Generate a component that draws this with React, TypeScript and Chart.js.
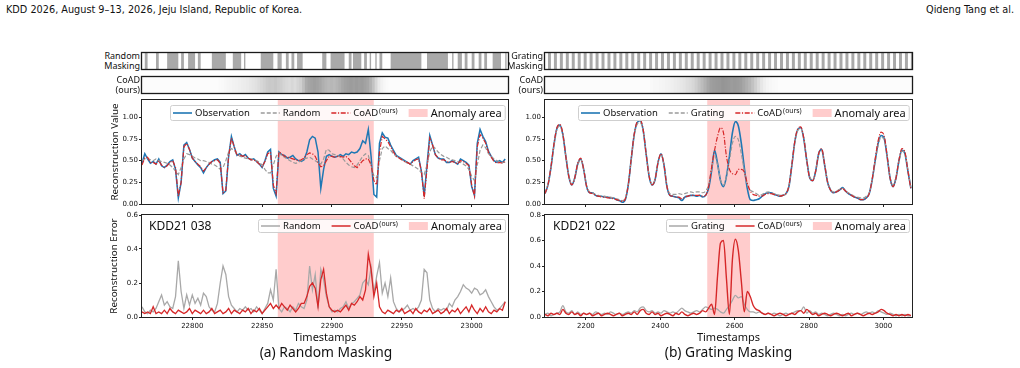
import { useEffect, useRef } from 'react';
import { Chart, registerables } from 'chart.js';

Chart.register(...registerables);

// ---------------- panel (a): KDD21 038, random masking ----------------
const A_T0 = 22764;
const A_DT = 2;
const A_X_RANGE = [22764, 23026];
const A_X_TICKS = [22800, 22850, 22900, 22950, 23000];
const A_ANOMALY = [22861, 22930];

const A_OBSERVATION = [
  0.47, 0.58, 0.52, 0.47, 0.49, 0.46, 0.52, 0.44, 0.42, 0.45,
  0.49, 0.51, 0.40, 0.07, 0.25, 0.68, 0.71, 0.63, 0.53, 0.49,
  0.45, 0.42, 0.36, 0.42, 0.46, 0.49, 0.51, 0.52, 0.48, 0.12,
  0.15, 0.55, 0.78, 0.66, 0.56, 0.58, 0.55, 0.57, 0.53, 0.51,
  0.52, 0.49, 0.46, 0.42, 0.50, 0.60, 0.63, 0.18, 0.09, 0.60,
  0.57, 0.56, 0.53, 0.54, 0.56, 0.52, 0.50, 0.49, 0.51, 0.60,
  0.74, 0.78, 0.76, 0.60, 0.18, 0.40, 0.55, 0.57, 0.55, 0.54,
  0.55, 0.57, 0.55, 0.58, 0.57, 0.60, 0.59, 0.60, 0.64, 0.73,
  0.70, 0.86, 0.55, 0.11, 0.08, 0.70, 0.82, 0.77, 0.76, 0.68,
  0.62, 0.56, 0.54, 0.52, 0.50, 0.48, 0.46, 0.50, 0.52, 0.54,
  0.38, 0.09, 0.45, 0.79, 0.68, 0.57, 0.53, 0.52, 0.52, 0.48,
  0.48, 0.50, 0.48, 0.46, 0.52, 0.50, 0.48, 0.45, 0.20, 0.10,
  0.70, 0.86, 0.78, 0.72, 0.61, 0.55, 0.50, 0.48, 0.50, 0.48,
  0.52,
];

const A_RANDOM = [
  0.50, 0.52, 0.53, 0.51, 0.50, 0.52, 0.50, 0.49, 0.48, 0.47,
  0.45, 0.42, 0.38, 0.34, 0.42, 0.52, 0.58, 0.57, 0.55, 0.53,
  0.52, 0.50, 0.50, 0.49, 0.48, 0.46, 0.45, 0.43, 0.40, 0.42,
  0.50, 0.60, 0.64, 0.62, 0.58, 0.55, 0.54, 0.53, 0.52, 0.52,
  0.51, 0.50, 0.48, 0.45, 0.40, 0.36, 0.36, 0.45, 0.55, 0.59,
  0.56, 0.54, 0.52, 0.50, 0.48, 0.47, 0.48, 0.50, 0.52, 0.53,
  0.54, 0.52, 0.50, 0.48, 0.46, 0.52, 0.63, 0.62, 0.58, 0.57,
  0.56, 0.54, 0.52, 0.48, 0.45, 0.43, 0.42, 0.45, 0.50, 0.55,
  0.58, 0.56, 0.45, 0.32, 0.30, 0.50, 0.64, 0.67, 0.64, 0.62,
  0.58, 0.55, 0.53, 0.51, 0.49, 0.47, 0.46, 0.44, 0.42, 0.40,
  0.36, 0.34, 0.45, 0.60, 0.67, 0.64, 0.60, 0.57, 0.55, 0.54,
  0.52, 0.51, 0.50, 0.49, 0.48, 0.46, 0.44, 0.40, 0.32, 0.27,
  0.45, 0.62, 0.68, 0.65, 0.58, 0.55, 0.52, 0.50, 0.49, 0.48,
  0.48,
];

const A_COAD = [
  0.45, 0.53, 0.54, 0.48, 0.48, 0.46, 0.50, 0.45, 0.42, 0.44,
  0.48, 0.50, 0.42, 0.09, 0.25, 0.66, 0.70, 0.63, 0.53, 0.49,
  0.46, 0.43, 0.38, 0.42, 0.46, 0.49, 0.50, 0.51, 0.47, 0.13,
  0.16, 0.55, 0.76, 0.66, 0.56, 0.57, 0.55, 0.56, 0.53, 0.51,
  0.51, 0.49, 0.46, 0.43, 0.49, 0.58, 0.60, 0.22, 0.12, 0.60,
  0.58, 0.55, 0.54, 0.53, 0.52, 0.51, 0.50, 0.51, 0.53, 0.57,
  0.59, 0.58, 0.55, 0.48, 0.43, 0.44, 0.50, 0.55, 0.55, 0.54,
  0.55, 0.55, 0.54, 0.55, 0.52, 0.48, 0.44, 0.42, 0.46, 0.50,
  0.52, 0.52, 0.45, 0.27, 0.22, 0.60, 0.78, 0.75, 0.72, 0.66,
  0.60, 0.55, 0.53, 0.51, 0.49, 0.48, 0.46, 0.49, 0.51, 0.52,
  0.38, 0.06, 0.40, 0.76, 0.68, 0.57, 0.53, 0.51, 0.51, 0.49,
  0.48, 0.49, 0.48, 0.46, 0.50, 0.49, 0.47, 0.44, 0.22, 0.09,
  0.66, 0.80, 0.76, 0.70, 0.60, 0.54, 0.49, 0.47, 0.48, 0.47,
  0.50,
];

const A_ERR_RANDOM = [
  0.06, 0.03, 0.02, 0.04, 0.03, 0.05, 0.09, 0.13, 0.07, 0.09,
  0.06, 0.05, 0.12, 0.33, 0.15, 0.05, 0.13, 0.07, 0.13, 0.08,
  0.11, 0.07, 0.14, 0.12, 0.06, 0.04, 0.03, 0.08, 0.20, 0.30,
  0.25, 0.12, 0.07, 0.05, 0.03, 0.05, 0.04, 0.06, 0.04, 0.05,
  0.03, 0.06, 0.04, 0.02, 0.05, 0.08, 0.16, 0.10, 0.28, 0.05,
  0.03, 0.06, 0.05, 0.03, 0.06, 0.04, 0.08, 0.06, 0.05, 0.10,
  0.30, 0.16, 0.25, 0.05, 0.28, 0.22, 0.12, 0.06, 0.03, 0.04,
  0.03, 0.05, 0.06, 0.09, 0.05, 0.08, 0.09, 0.11, 0.13, 0.20,
  0.22, 0.19, 0.29, 0.14, 0.24, 0.32, 0.14, 0.20, 0.12, 0.23,
  0.09, 0.05, 0.03, 0.04, 0.05, 0.07, 0.04, 0.05, 0.04, 0.06,
  0.10, 0.28, 0.26, 0.10, 0.05, 0.03, 0.05, 0.04, 0.05, 0.04,
  0.08, 0.06, 0.10, 0.12, 0.15, 0.19, 0.17, 0.16, 0.14, 0.17,
  0.16, 0.13, 0.14, 0.16, 0.12, 0.09, 0.06, 0.04, 0.05, 0.07,
  0.09,
];

const A_ERR_COAD = [
  0.03, 0.02, 0.03, 0.02, 0.06, 0.02, 0.03, 0.02, 0.04, 0.02,
  0.05, 0.03, 0.02, 0.04, 0.03, 0.02, 0.03, 0.05, 0.02, 0.04,
  0.03, 0.02, 0.04, 0.02, 0.03, 0.05, 0.02, 0.03, 0.04, 0.02,
  0.03, 0.05, 0.02, 0.04, 0.03, 0.02, 0.04, 0.03, 0.05, 0.02,
  0.04, 0.03, 0.05, 0.02, 0.04, 0.06, 0.08, 0.05, 0.07, 0.05,
  0.08, 0.06, 0.04, 0.07, 0.05, 0.03, 0.05, 0.08, 0.08, 0.12,
  0.18, 0.20, 0.17, 0.06, 0.22, 0.28, 0.14, 0.06, 0.04, 0.03,
  0.04, 0.03, 0.05, 0.07, 0.04, 0.08, 0.07, 0.09, 0.12, 0.10,
  0.16, 0.37, 0.28, 0.12, 0.20, 0.06, 0.03, 0.02, 0.04, 0.03,
  0.02, 0.04, 0.03, 0.05, 0.02, 0.03, 0.04, 0.02, 0.05, 0.03,
  0.02, 0.04, 0.03, 0.05, 0.02, 0.03, 0.04, 0.02, 0.03, 0.05,
  0.02, 0.04, 0.03, 0.05, 0.02, 0.04, 0.06, 0.03, 0.07, 0.04,
  0.02, 0.05, 0.03, 0.06, 0.03, 0.02, 0.04, 0.03, 0.05, 0.04,
  0.09,
];

// masked timestamp intervals [start, end]
const A_MASK = [
  [22766, 22768], [22774, 22776], [22782, 22790], [22792, 22794], [22797, 22802],
  [22804, 22806], [22814, 22824], [22829, 22835], [22837, 22838], [22849, 22858],
  [22861, 22864], [22867, 22869], [22871, 22873], [22875, 22879], [22893, 22896],
  [22899, 22909], [22912, 22914], [22915, 22921], [22923, 22925], [22927, 22928],
  [22931, 22932], [22934, 22936], [22942, 22964], [22968, 22983], [22986, 22987],
  [22990, 22993], [22995, 22997], [23000, 23002], [23005, 23007], [23009, 23011],
  [23015, 23021], [23024, 23025],
];

// CoAD mask weights on the same time grid as the series
const A_COAD_WEIGHT = [
  0.02, 0.02, 0.02, 0.02, 0.02, 0.02, 0.02, 0.02, 0.02, 0.02,
  0.02, 0.02, 0.02, 0.02, 0.02, 0.02, 0.02, 0.02, 0.02, 0.02,
  0.02, 0.02, 0.02, 0.02, 0.02, 0.02, 0.02, 0.02, 0.03, 0.04,
  0.05, 0.06, 0.07, 0.08, 0.09, 0.10, 0.11, 0.12, 0.13, 0.15,
  0.17, 0.19, 0.22, 0.25, 0.28, 0.32, 0.34, 0.33, 0.35, 0.32,
  0.30, 0.26, 0.24, 0.22, 0.25, 0.22, 0.26, 0.30, 0.40, 0.52,
  0.56, 0.58, 0.60, 0.58, 0.55, 0.50, 0.46, 0.44, 0.45, 0.43,
  0.46, 0.50, 0.55, 0.58, 0.60, 0.62, 0.60, 0.62, 0.60, 0.61,
  0.58, 0.55, 0.48, 0.38, 0.25, 0.14, 0.08, 0.05, 0.03, 0.02,
  0.02, 0.02, 0.02, 0.02, 0.02, 0.02, 0.02, 0.02, 0.02, 0.02,
  0.02, 0.02, 0.02, 0.02, 0.02, 0.02, 0.02, 0.02, 0.02, 0.02,
  0.02, 0.02, 0.02, 0.02, 0.02, 0.02, 0.02, 0.02, 0.02, 0.02,
  0.02, 0.02, 0.02, 0.02, 0.02, 0.02, 0.02, 0.02, 0.02, 0.02,
  0.02,
];

// ---------------- panel (b): KDD21 022, grating masking ----------------
const B_T0 = 2090;
const B_DT = 8;
const B_X_RANGE = [2090, 3077];
const B_X_TICKS = [2200, 2400, 2600, 2800, 3000];
const B_ANOMALY = [2526, 2642];

const B_OBSERVATION = [
  0.12, 0.22, 0.42, 0.68, 0.87, 0.91, 0.80, 0.55, 0.32, 0.22,
  0.30, 0.46, 0.52, 0.40, 0.20, 0.13, 0.13, 0.10, 0.09, 0.09,
  0.08, 0.08, 0.07, 0.07, 0.05, 0.04, 0.02, 0.05, 0.22, 0.52,
  0.80, 0.94, 0.96, 0.85, 0.58, 0.32, 0.22, 0.28, 0.48, 0.58,
  0.45, 0.20, 0.10, 0.09, 0.08, 0.07, 0.04, 0.08, 0.09, 0.10,
  0.10, 0.09, 0.10, 0.08, 0.10, 0.18, 0.38, 0.62, 0.47, 0.27,
  0.20, 0.32, 0.55, 0.82, 0.95, 0.90, 0.70, 0.42, 0.18, 0.05,
  0.04, 0.05, 0.06, 0.09, 0.12, 0.13, 0.13, 0.11, 0.10, 0.09,
  0.10, 0.12, 0.20, 0.45, 0.72, 0.86, 0.88, 0.75, 0.50, 0.30,
  0.27, 0.38, 0.58, 0.63, 0.45, 0.25, 0.16, 0.13, 0.14, 0.16,
  0.19, 0.15, 0.12, 0.10, 0.08, 0.07, 0.05, 0.05, 0.07, 0.12,
  0.28, 0.50, 0.70, 0.79, 0.76, 0.55, 0.30, 0.20, 0.30, 0.50,
  0.62, 0.58, 0.38, 0.18,
];

const B_GRATING = [
  0.13, 0.23, 0.42, 0.67, 0.86, 0.90, 0.80, 0.56, 0.33, 0.23,
  0.30, 0.45, 0.51, 0.40, 0.21, 0.14, 0.13, 0.11, 0.10, 0.09,
  0.09, 0.08, 0.08, 0.07, 0.06, 0.05, 0.04, 0.07, 0.23, 0.52,
  0.79, 0.92, 0.94, 0.84, 0.58, 0.33, 0.23, 0.29, 0.48, 0.57,
  0.45, 0.21, 0.12, 0.11, 0.11, 0.12, 0.11, 0.12, 0.13, 0.14,
  0.13, 0.14, 0.14, 0.13, 0.15, 0.22, 0.40, 0.56, 0.45, 0.28,
  0.22, 0.32, 0.50, 0.70, 0.78, 0.74, 0.58, 0.38, 0.22, 0.16,
  0.14, 0.12, 0.10, 0.11, 0.13, 0.14, 0.13, 0.12, 0.11, 0.10,
  0.10, 0.12, 0.21, 0.45, 0.71, 0.85, 0.87, 0.75, 0.51, 0.31,
  0.28, 0.38, 0.57, 0.62, 0.45, 0.26, 0.17, 0.14, 0.15, 0.17,
  0.18, 0.15, 0.13, 0.11, 0.09, 0.08, 0.07, 0.07, 0.09, 0.13,
  0.28, 0.49, 0.68, 0.77, 0.75, 0.56, 0.31, 0.22, 0.31, 0.49,
  0.61, 0.58, 0.39, 0.19,
];

const B_COAD = [
  0.12, 0.22, 0.43, 0.69, 0.88, 0.92, 0.81, 0.55, 0.32, 0.22,
  0.30, 0.47, 0.53, 0.40, 0.20, 0.13, 0.12, 0.10, 0.09, 0.08,
  0.08, 0.07, 0.07, 0.06, 0.05, 0.04, 0.03, 0.06, 0.22, 0.53,
  0.81, 0.95, 0.97, 0.86, 0.58, 0.32, 0.22, 0.28, 0.48, 0.58,
  0.45, 0.20, 0.10, 0.09, 0.08, 0.08, 0.06, 0.08, 0.09, 0.10,
  0.10, 0.10, 0.10, 0.09, 0.10, 0.20, 0.42, 0.62, 0.78, 0.88,
  0.82, 0.55, 0.40, 0.35, 0.34, 0.40, 0.40, 0.37, 0.24, 0.15,
  0.11, 0.10, 0.09, 0.09, 0.11, 0.12, 0.12, 0.11, 0.10, 0.09,
  0.10, 0.12, 0.21, 0.46, 0.73, 0.87, 0.89, 0.76, 0.50, 0.30,
  0.27, 0.38, 0.58, 0.64, 0.46, 0.25, 0.16, 0.13, 0.14, 0.16,
  0.18, 0.15, 0.12, 0.10, 0.08, 0.07, 0.05, 0.05, 0.07, 0.12,
  0.29, 0.52, 0.73, 0.83, 0.79, 0.56, 0.30, 0.20, 0.30, 0.51,
  0.64, 0.60, 0.38, 0.17,
];

const B_ERR_GRATING = [
  0.02, 0.03, 0.01, 0.02, 0.03, 0.04, 0.09, 0.04, 0.03, 0.05,
  0.02, 0.04, 0.02, 0.03, 0.02, 0.03, 0.02, 0.04, 0.03, 0.02,
  0.03, 0.02, 0.04, 0.03, 0.02, 0.03, 0.02, 0.03, 0.04, 0.03,
  0.05, 0.04, 0.07, 0.08, 0.05, 0.04, 0.05, 0.03, 0.04, 0.03,
  0.05, 0.04, 0.03, 0.04, 0.03, 0.05, 0.07, 0.05, 0.04, 0.03,
  0.04, 0.05, 0.04, 0.06, 0.08, 0.07, 0.06, 0.07, 0.06, 0.04,
  0.03, 0.06, 0.09, 0.13, 0.17, 0.15, 0.16, 0.10, 0.06, 0.04,
  0.04, 0.03, 0.04, 0.03, 0.02, 0.03, 0.02, 0.03, 0.02, 0.01,
  0.02, 0.03, 0.02, 0.03, 0.04, 0.05, 0.05, 0.08, 0.03, 0.05,
  0.03, 0.04, 0.02, 0.03, 0.02, 0.01, 0.02, 0.03, 0.02, 0.01,
  0.02, 0.01, 0.02, 0.03, 0.02, 0.03, 0.02, 0.03, 0.04, 0.03,
  0.04, 0.03, 0.05, 0.04, 0.03, 0.02, 0.03, 0.02, 0.01, 0.02,
  0.01, 0.02, 0.01, 0.01,
];

const B_ERR_COAD = [
  0.02, 0.01, 0.03, 0.02, 0.03, 0.02, 0.06, 0.03, 0.02, 0.04,
  0.02, 0.03, 0.01, 0.03, 0.02, 0.03, 0.01, 0.02, 0.03, 0.01,
  0.02, 0.03, 0.02, 0.01, 0.02, 0.03, 0.01, 0.02, 0.03, 0.02,
  0.04, 0.02, 0.05, 0.06, 0.03, 0.02, 0.04, 0.02, 0.03, 0.01,
  0.02, 0.03, 0.02, 0.01, 0.03, 0.02, 0.04, 0.02, 0.01, 0.02,
  0.03, 0.02, 0.03, 0.05, 0.04, 0.07, 0.10, 0.02, 0.32, 0.58,
  0.60, 0.30, 0.02, 0.45, 0.61, 0.52, 0.28, 0.04, 0.20, 0.16,
  0.09, 0.06, 0.05, 0.03, 0.02, 0.03, 0.02, 0.01, 0.02, 0.03,
  0.02, 0.01, 0.02, 0.03, 0.02, 0.04, 0.05, 0.03, 0.06, 0.04,
  0.02, 0.03, 0.01, 0.02, 0.03, 0.02, 0.01, 0.02, 0.03, 0.02,
  0.01, 0.02, 0.03, 0.01, 0.02, 0.03, 0.02, 0.01, 0.02, 0.03,
  0.02, 0.03, 0.04, 0.06, 0.05, 0.03, 0.02, 0.01, 0.02, 0.01,
  0.02, 0.01, 0.02, 0.01,
];

// grating mask: start of each masked stripe, all of equal width
const B_GRATING_STARTS = [
  2098, 2114, 2130, 2146, 2162, 2178, 2194, 2210, 2226, 2242,
  2258, 2274, 2290, 2306, 2322, 2338, 2354, 2370, 2386, 2402,
  2418, 2434, 2450, 2466, 2482, 2498, 2514, 2530, 2546, 2562,
  2578, 2594, 2610, 2626, 2642, 2658, 2674, 2690, 2706, 2722,
  2738, 2754, 2770, 2786, 2802, 2818, 2834, 2850, 2866, 2882,
  2898, 2914, 2930, 2946, 2962, 2978, 2994, 3010, 3026, 3042,
  3058, 3074,
];
const B_GRATING_WIDTH = 8;

const B_COAD_WEIGHT = [
  0.02, 0.02, 0.02, 0.02, 0.02, 0.02, 0.02, 0.02, 0.02, 0.02,
  0.02, 0.02, 0.02, 0.02, 0.02, 0.02, 0.02, 0.02, 0.02, 0.02,
  0.02, 0.02, 0.02, 0.02, 0.02, 0.02, 0.02, 0.02, 0.02, 0.02,
  0.02, 0.02, 0.02, 0.02, 0.02, 0.02, 0.04, 0.05, 0.05, 0.06,
  0.07, 0.08, 0.09, 0.10, 0.12, 0.13, 0.15, 0.17, 0.20, 0.22,
  0.25, 0.30, 0.36, 0.42, 0.48, 0.55, 0.60, 0.62, 0.63, 0.64,
  0.66, 0.65, 0.64, 0.62, 0.63, 0.62, 0.60, 0.55, 0.50, 0.45,
  0.38, 0.30, 0.22, 0.15, 0.10, 0.07, 0.05, 0.04, 0.03, 0.02,
  0.02, 0.02, 0.02, 0.02, 0.02, 0.02, 0.02, 0.02, 0.02, 0.02,
  0.02, 0.02, 0.02, 0.02, 0.02, 0.02, 0.02, 0.02, 0.02, 0.02,
  0.02, 0.02, 0.02, 0.02, 0.02, 0.02, 0.02, 0.02, 0.02, 0.02,
  0.02, 0.02, 0.02, 0.02, 0.02, 0.02, 0.02, 0.02, 0.02, 0.02,
  0.02, 0.02, 0.02, 0.02,
];

// ---------------- shared axes ----------------
const VALUE_MAX = 1.2;
const VALUE_TICKS = [0, 0.25, 0.5, 0.75, 1.0];
const A_ERR_MAX = 0.6;
const A_ERR_TICKS = [0, 0.2, 0.4, 0.6];
const B_ERR_MAX = 0.8;
const B_ERR_TICKS = [0, 0.2, 0.4, 0.6, 0.8];

// ---------------- styling ----------------
const BLUE = '#1f77b4';
const RED = '#d62728';
const GRAY_DASH = '#9a9a9a';
const GRAY_ERR = '#a8a8a8';
const PINK = 'rgba(255,0,0,0.2)';
const MASK_GRAY = '#a9a9a9';
const TEXT_FONT = '"Noto Sans", "Open Sans", sans-serif';
const TICK_FONT = '"DejaVu Sans", sans-serif';

const COLS = { a: { left: 142, right: 508 }, b: { left: 545, right: 912 } };
const ROWS = { mask: [53, 69], coad: [77, 93], value: [100, 204], error: [215, 317] };
const Y_AXIS_W = 36;
const PAD_T = 6;
const PAD_R = 6;
const STRIP_PAD = 2;

const shade = (w: number) => {
  const g = Math.round(255 - 160 * w);
  return `rgb(${g},${g},${g})`;
};

const toPoints = (t0: number, dt: number, ys: number[]) => ys.map((y, i) => ({ x: t0 + dt * i, y }));

// frame around the plotting area (all four spines)
const framePlugin = {
  id: 'frame',
  afterDatasetsDraw(chart: any, _args: any, opts: any) {
    const a = chart.chartArea;
    const ctx = chart.ctx;
    ctx.save();
    ctx.strokeStyle = opts.color || '#222';
    ctx.lineWidth = opts.width || 1;
    ctx.strokeRect(Math.round(a.left) - 0.5, Math.round(a.top) - 0.5, Math.round(a.width) + 1, Math.round(a.height) + 1);
    ctx.restore();
  },
};

type LegendItem = {
  text: string;
  sup?: string;
  kind: 'line' | 'patch';
  color: string;
  dash?: number[];
  width?: number;
  size?: number;
};

// legend drawn inside the plotting area, anchored at the upper right
const insetLegendPlugin = {
  id: 'insetLegend',
  afterDraw(chart: any, _args: any, opts: any) {
    const items: LegendItem[] = opts.items || [];
    if (!items.length) return;
    const ctx = chart.ctx;
    const a = chart.chartArea;
    const handle = 19;
    const gap = 3;
    const colGap = 11;
    const padX = 3;
    const base = opts.fontSize || 9.5;
    ctx.save();
    const widths = items.map((it) => {
      ctx.font = `${it.size || base}px ${TEXT_FONT}`;
      let w = ctx.measureText(it.text).width;
      if (it.sup) {
        ctx.font = `${base * 0.72}px ${TEXT_FONT}`;
        w += ctx.measureText(it.sup).width + 1;
      }
      return w;
    });
    const total = widths.reduce((s, w) => s + handle + gap + w, 0) + colGap * (items.length - 1) + padX * 2;
    const h = opts.height || 14;
    const x0 = Math.round(a.right - opts.right - total);
    const y0 = Math.round(a.top + opts.top);
    ctx.beginPath();
    ctx.roundRect(x0 + 0.5, y0 + 0.5, total, h, 2);
    ctx.fillStyle = 'rgba(255,255,255,0.85)';
    ctx.fill();
    ctx.strokeStyle = '#cfcfcf';
    ctx.lineWidth = 1;
    ctx.stroke();
    const cy = y0 + h / 2 + 0.5;
    let x = x0 + padX;
    items.forEach((it, k) => {
      if (it.kind === 'line') {
        ctx.beginPath();
        ctx.setLineDash(it.dash || []);
        ctx.strokeStyle = it.color;
        ctx.lineWidth = it.width || 1.4;
        ctx.moveTo(x, cy);
        ctx.lineTo(x + handle, cy);
        ctx.stroke();
        ctx.setLineDash([]);
      } else {
        ctx.fillStyle = it.color;
        ctx.fillRect(x, cy - 4, handle, 8);
      }
      x += handle + gap;
      ctx.fillStyle = '#111';
      ctx.textBaseline = 'middle';
      ctx.textAlign = 'left';
      ctx.font = `${it.size || base}px ${TEXT_FONT}`;
      ctx.fillText(it.text, x, cy + 0.5);
      const mw = ctx.measureText(it.text).width;
      if (it.sup) {
        ctx.font = `${base * 0.72}px ${TEXT_FONT}`;
        ctx.fillText(it.sup, x + mw + 1, cy - 1.5);
      }
      x += widths[k] + colGap;
    });
    ctx.restore();
  },
};

type Box = { left: number; top: number; width: number; height: number };

const plotBox = (col: { left: number; right: number }, row: number[], xAxisH: number): Box => ({
  left: col.left - Y_AXIS_W,
  top: row[0] - PAD_T,
  width: Y_AXIS_W + (col.right - col.left) + PAD_R,
  height: PAD_T + (row[1] - row[0]) + xAxisH,
});

const stripBox = (col: { left: number; right: number }, row: number[]): Box => ({
  left: col.left - STRIP_PAD,
  top: row[0] - STRIP_PAD,
  width: col.right - col.left + STRIP_PAD * 2,
  height: row[1] - row[0] + STRIP_PAD * 2,
});

const anomalyDataset = (span: number[], top: number) => ({
  type: 'line',
  data: [
    { x: span[0], y: top },
    { x: span[1], y: top },
  ],
  fill: 'origin',
  backgroundColor: PINK,
  borderWidth: 0,
  pointRadius: 0,
  order: 10,
});

const lineDataset = (pts: any[], color: string, width: number, dash: number[], order: number, smooth: boolean) => ({
  type: 'line',
  data: pts,
  borderColor: color,
  borderWidth: width,
  borderDash: dash,
  pointRadius: 0,
  fill: false,
  order,
  tension: smooth ? 0.4 : 0,
  cubicInterpolationMode: smooth ? 'monotone' : 'default',
});

const plotConfig = (o: {
  datasets: any[];
  xRange: number[];
  xTicks: number[];
  showXLabels: boolean;
  xAxisH: number;
  yMax: number;
  yTicks: number[];
  yDigits: number;
  legend: LegendItem[];
  legendTop: number;
  legendHeight: number;
}) => ({
  type: 'line',
  data: { datasets: o.datasets },
  options: {
    animation: false,
    responsive: false,
    devicePixelRatio: 1,
    events: [],
    layout: { padding: { top: PAD_T, right: PAD_R, left: 0, bottom: 0 } },
    plugins: {
      legend: { display: false },
      tooltip: { enabled: false },
      frame: { color: '#222', width: 1 },
      insetLegend: { items: o.legend, top: o.legendTop, right: 3, height: o.legendHeight, fontSize: 9.5 },
    },
    scales: {
      x: {
        type: 'linear',
        min: o.xRange[0],
        max: o.xRange[1],
        afterBuildTicks: (s: any) => {
          s.ticks = o.xTicks.map((v) => ({ value: v }));
        },
        afterFit: (s: any) => {
          s.height = o.xAxisH;
        },
        ticks: {
          display: o.showXLabels,
          autoSkip: false,
          maxRotation: 0,
          padding: 2,
          color: '#111',
          font: { size: 7, family: TICK_FONT },
          callback: (v: number) => String(v),
        },
        grid: { drawOnChartArea: false, drawTicks: true, tickLength: 3, color: '#222' },
        border: { display: false },
      },
      y: {
        type: 'linear',
        min: 0,
        max: o.yMax,
        afterBuildTicks: (s: any) => {
          s.ticks = o.yTicks.map((v) => ({ value: v }));
        },
        afterFit: (s: any) => {
          s.width = Y_AXIS_W;
        },
        ticks: {
          autoSkip: false,
          padding: 1,
          color: '#111',
          font: { size: 7, family: TICK_FONT },
          callback: (v: number) => Number(v).toFixed(o.yDigits),
        },
        grid: { drawOnChartArea: false, drawTicks: true, tickLength: 3, color: '#222' },
        border: { display: false },
      },
    },
  },
  plugins: [framePlugin, insetLegendPlugin],
});

const maskConfig = (intervals: number[][], xRange: number[]) => ({
  type: 'bar',
  data: {
    labels: ['mask'],
    datasets: [
      {
        data: intervals.map(([s, e]) => ({ x: [s, e], y: 'mask' })),
        backgroundColor: MASK_GRAY,
        borderWidth: 0,
        barPercentage: 1,
        categoryPercentage: 1,
        inflateAmount: 0,
      },
    ],
  },
  options: {
    indexAxis: 'y',
    animation: false,
    responsive: false,
    devicePixelRatio: 1,
    events: [],
    layout: { padding: STRIP_PAD },
    plugins: { legend: { display: false }, tooltip: { enabled: false }, frame: { color: '#1a1a1a', width: 1.3 } },
    scales: {
      x: { type: 'linear', min: xRange[0], max: xRange[1], display: false, offset: false },
      y: { type: 'category', display: false },
    },
  },
  plugins: [framePlugin],
});

const weightConfig = (t0: number, dt: number, weights: number[], xRange: number[]) => ({
  type: 'bar',
  data: {
    datasets: [
      {
        data: weights.map((_w, i) => ({ x: t0 + dt * i, y: 1 })),
        backgroundColor: weights.map(shade),
        borderWidth: 0,
        barPercentage: 1,
        categoryPercentage: 1,
        inflateAmount: 0.6,
      },
    ],
  },
  options: {
    animation: false,
    responsive: false,
    devicePixelRatio: 1,
    events: [],
    layout: { padding: STRIP_PAD },
    plugins: { legend: { display: false }, tooltip: { enabled: false }, frame: { color: '#1a1a1a', width: 1.3 } },
    scales: {
      x: { type: 'linear', min: xRange[0], max: xRange[1], display: false, offset: false },
      y: { min: 0, max: 1, display: false },
    },
  },
  plugins: [framePlugin],
});

const valueLegend = (maskName: string): LegendItem[] => [
  { text: 'Observation', kind: 'line', color: BLUE, width: 1.6 },
  { text: maskName, kind: 'line', color: GRAY_DASH, dash: [4, 2], width: 1.3 },
  { text: 'CoAD', sup: '(ours)', kind: 'line', color: RED, dash: [5, 1.6, 1.2, 1.6], width: 1.3 },
  { text: 'Anomaly area', kind: 'patch', color: PINK, size: 11 },
];

const errorLegend = (maskName: string): LegendItem[] => [
  { text: maskName, kind: 'line', color: GRAY_ERR, width: 1.5 },
  { text: 'CoAD', sup: '(ours)', kind: 'line', color: RED, width: 1.5 },
  { text: 'Anomaly area', kind: 'patch', color: PINK, size: 11 },
];

const SPECS: { box: Box; config: any }[] = [
  // panel (a)
  { box: stripBox(COLS.a, ROWS.mask), config: maskConfig(A_MASK, A_X_RANGE) },
  { box: stripBox(COLS.a, ROWS.coad), config: weightConfig(A_T0, A_DT, A_COAD_WEIGHT, A_X_RANGE) },
  {
    box: plotBox(COLS.a, ROWS.value, 6),
    config: plotConfig({
      datasets: [
        anomalyDataset(A_ANOMALY, VALUE_MAX),
        lineDataset(toPoints(A_T0, A_DT, A_OBSERVATION), BLUE, 1.5, [], 3, false),
        lineDataset(toPoints(A_T0, A_DT, A_RANDOM), GRAY_DASH, 1.2, [4, 2], 2, false),
        lineDataset(toPoints(A_T0, A_DT, A_COAD), RED, 1.2, [5, 1.6, 1.2, 1.6], 1, false),
      ],
      xRange: A_X_RANGE,
      xTicks: A_X_TICKS,
      showXLabels: false,
      xAxisH: 6,
      yMax: VALUE_MAX,
      yTicks: VALUE_TICKS,
      yDigits: 2,
      legend: valueLegend('Random'),
      legendTop: 5,
      legendHeight: 15,
    }),
  },
  {
    box: plotBox(COLS.a, ROWS.error, 16),
    config: plotConfig({
      datasets: [
        anomalyDataset(A_ANOMALY, A_ERR_MAX),
        lineDataset(toPoints(A_T0, A_DT, A_ERR_RANDOM), GRAY_ERR, 1.3, [], 2, false),
        lineDataset(toPoints(A_T0, A_DT, A_ERR_COAD), RED, 1.3, [], 1, false),
      ],
      xRange: A_X_RANGE,
      xTicks: A_X_TICKS,
      showXLabels: true,
      xAxisH: 16,
      yMax: A_ERR_MAX,
      yTicks: A_ERR_TICKS,
      yDigits: 1,
      legend: errorLegend('Random'),
      legendTop: 4,
      legendHeight: 13,
    }),
  },
  // panel (b)
  {
    box: stripBox(COLS.b, ROWS.mask),
    config: maskConfig(
      B_GRATING_STARTS.map((s) => [s, s + B_GRATING_WIDTH]),
      B_X_RANGE,
    ),
  },
  { box: stripBox(COLS.b, ROWS.coad), config: weightConfig(B_T0, B_DT, B_COAD_WEIGHT, B_X_RANGE) },
  {
    box: plotBox(COLS.b, ROWS.value, 6),
    config: plotConfig({
      datasets: [
        anomalyDataset(B_ANOMALY, VALUE_MAX),
        lineDataset(toPoints(B_T0, B_DT, B_OBSERVATION), BLUE, 1.6, [], 3, true),
        lineDataset(toPoints(B_T0, B_DT, B_GRATING), GRAY_DASH, 1.2, [4, 2], 2, true),
        lineDataset(toPoints(B_T0, B_DT, B_COAD), RED, 1.2, [5, 1.6, 1.2, 1.6], 1, true),
      ],
      xRange: B_X_RANGE,
      xTicks: B_X_TICKS,
      showXLabels: false,
      xAxisH: 6,
      yMax: VALUE_MAX,
      yTicks: VALUE_TICKS,
      yDigits: 2,
      legend: valueLegend('Grating'),
      legendTop: 5,
      legendHeight: 15,
    }),
  },
  {
    box: plotBox(COLS.b, ROWS.error, 16),
    config: plotConfig({
      datasets: [
        anomalyDataset(B_ANOMALY, B_ERR_MAX),
        lineDataset(toPoints(B_T0, B_DT, B_ERR_GRATING), GRAY_ERR, 1.3, [], 2, true),
        lineDataset(toPoints(B_T0, B_DT, B_ERR_COAD), RED, 1.4, [], 1, true),
      ],
      xRange: B_X_RANGE,
      xTicks: B_X_TICKS,
      showXLabels: true,
      xAxisH: 16,
      yMax: B_ERR_MAX,
      yTicks: B_ERR_TICKS,
      yDigits: 1,
      legend: errorLegend('Grating'),
      legendTop: 4,
      legendHeight: 13,
    }),
  },
];

const abs = (extra: any) => ({ position: 'absolute' as const, whiteSpace: 'nowrap' as const, ...extra });

function StripLabel({ right, centerY, lines }: { right: number; centerY: number; lines: string[] }) {
  return (
    <div
      style={abs({
        right: 1020 - right,
        top: centerY - 10,
        fontSize: 9,
        lineHeight: '10px',
        textAlign: 'right',
      })}
    >
      {lines[0]}
      <br />
      {lines[1]}
    </div>
  );
}

function Centered({ x, y, size, children, rotate }: { x: number; y: number; size: number; children: any; rotate?: boolean }) {
  return (
    <div
      style={abs({
        left: x,
        top: y,
        fontSize: size,
        lineHeight: 1,
        transform: `translate(-50%, -50%)${rotate ? ' rotate(-90deg)' : ''}`,
      })}
    >
      {children}
    </div>
  );
}

export default function App() {
  const canvases = useRef<(HTMLCanvasElement | null)[]>([]);

  useEffect(() => {
    const charts = SPECS.map((s, k) => new Chart(canvases.current[k] as HTMLCanvasElement, s.config));
    return () => charts.forEach((c) => c.destroy());
  }, []);

  const aMid = (COLS.a.left + COLS.a.right) / 2;
  const bMid = (COLS.b.left + COLS.b.right) / 2;

  return (
    <div
      style={{
        position: 'fixed',
        left: 0,
        top: 0,
        width: 1020,
        height: 368,
        background: '#fff',
        color: '#111',
        fontFamily: TEXT_FONT,
        overflow: 'hidden',
      }}
    >
      <div
        style={abs({
          left: 6,
          top: 4,
          fontSize: 10.8,
          lineHeight: '12px',
          fontFamily: '"Liberation Sans Narrow", "DejaVu Sans Condensed", "Liberation Sans", sans-serif',
        })}
      >
        KDD 2026, August 9–13, 2026, Jeju Island, Republic of Korea.
      </div>
      <div
        style={abs({
          right: 6,
          top: 4,
          fontSize: 10.8,
          lineHeight: '12px',
          fontFamily: '"Liberation Sans Narrow", "DejaVu Sans Condensed", "Liberation Sans", sans-serif',
        })}
      >
        Qideng Tang et al.
      </div>

      {SPECS.map((s, k) => (
        <canvas
          key={k}
          ref={(el) => {
            canvases.current[k] = el;
          }}
          width={s.box.width}
          height={s.box.height}
          style={{ position: 'absolute', left: s.box.left, top: s.box.top, width: s.box.width, height: s.box.height }}
        />
      ))}

      <StripLabel right={140} centerY={61} lines={['Random', 'Masking']} />
      <StripLabel right={140} centerY={85} lines={['CoAD', '(ours)']} />
      <StripLabel right={543} centerY={61} lines={['Grating', 'Masking']} />
      <StripLabel right={543} centerY={85} lines={['CoAD', '(ours)']} />

      <Centered x={115} y={152} size={9.8} rotate>
        Reconstruction Value
      </Centered>
      <Centered x={114} y={266} size={9.8} rotate>
        Reconstruction Error
      </Centered>

      <div style={abs({ left: 149, top: 219, fontSize: 12, lineHeight: '13px' })}>KDD21 038</div>
      <div style={abs({ left: 553, top: 219, fontSize: 12, lineHeight: '13px' })}>KDD21 022</div>

      <Centered x={aMid} y={336} size={11}>
        Timestamps
      </Centered>
      <Centered x={bMid} y={336} size={11}>
        Timestamps
      </Centered>
      <Centered x={aMid + 1} y={352} size={13.8}>
        (a) Random Masking
      </Centered>
      <Centered x={bMid} y={352} size={13.8}>
        (b) Grating Masking
      </Centered>
    </div>
  );
}
